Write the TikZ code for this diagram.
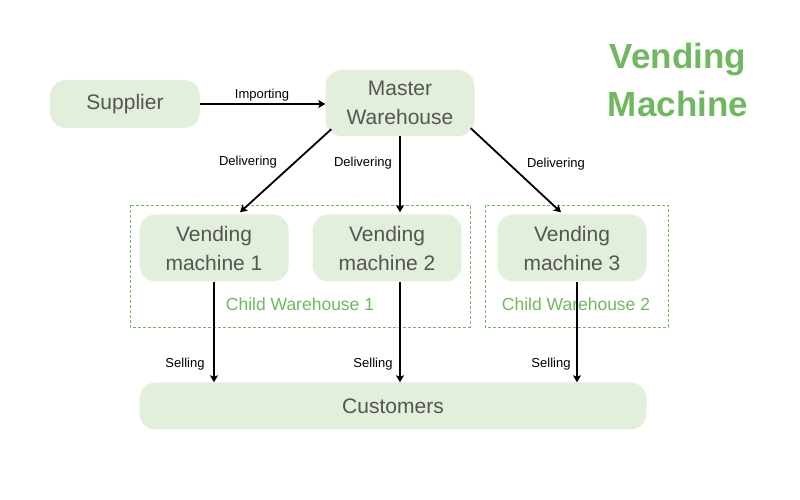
\documentclass[tikz,border=0pt]{standalone}
\usepackage{fontspec}
\setmainfont{Liberation Sans}
\usetikzlibrary{arrows.meta}
\definecolor{boxfill}{RGB}{226,239,218}
\definecolor{boxtext}{RGB}{85,85,85}
\definecolor{vmgreen}{RGB}{112,184,96}
\begin{document}
\begin{tikzpicture}[>={Stealth[length=7pt,width=8pt,inset=1.5pt]},line join=round,x=1pt,y=1pt,
	box/.style={fill=boxfill,text=boxtext,rounded corners=16pt,inner sep=0pt,align=center,font=\fontsize{21}{29}\selectfont},
	lbl/.style={font=\fontsize{13}{15}\selectfont,inner sep=0pt},
	grp/.style={draw=vmgreen,dash pattern=on 3pt off 2pt,line width=0.8pt},
	flow/.style={->,line width=1.8pt}]
	\useasboundingbox (0,0) rectangle (800,500);
	% child warehouses
	\draw[grp] (130,295) rectangle (470,173);
	\draw[grp] (485,295) rectangle (668,173);
	\node[text=vmgreen,font=\fontsize{17.5}{20}\selectfont] (cw1) at (300,196) {Child Warehouse 1};
	\node[text=vmgreen,font=\fontsize{17.5}{20}\selectfont] (cw2) at (576,196) {Child Warehouse 2};
	% boxes
	\node[box,minimum width=150pt,minimum height=48pt] (sup) at (125,396) {Supplier};
	\node[box,minimum width=149pt,minimum height=66pt] (mw) at (400,397) {Master\\Warehouse};
	\foreach \i/\x in {1/214,2/387,3/572}
	{\node[box,minimum width=149pt,minimum height=67pt] (vm\i) at (\x,252) {Vending\\machine \i};}
	\node[box,minimum width=507pt,minimum height=47pt] (cust) at (393,94) {Customers};
	\node[text=vmgreen,font=\bfseries\fontsize{35}{48}\selectfont,align=center] (title) at (678,420) {Vending\\Machine};
	% connectors
	\draw[flow] (sup.east) -- (sup.east -| mw.west);
	\draw[flow] ([xshift=6pt,yshift=7pt]mw.south west) -- ([xshift=26pt,yshift=2pt]vm1.north);
	\draw[flow] (mw.south) -- ([yshift=2pt]mw.south |- vm2.north);
	\draw[flow] ([xshift=-4pt,yshift=8pt]mw.south east) -- ([xshift=-11pt,yshift=2pt]vm3.north);
	\foreach \i/\d in {1/0,2/13,3/5}
	{\draw[flow] ([xshift=\d pt]vm\i.south) -- ([xshift=\d pt]vm\i.south |- cust.north);}
	% labels
	\node[lbl] (imp) at (262,405) {Importing};
	\node[lbl] (del1) at (248,338) {Delivering};
	\node[lbl] (del2) at (363,337) {Delivering};
	\node[lbl] (del3) at (556,336) {Delivering};
	\foreach \i/\x in {1/185,2/373,3/551}
	{\node[lbl] (sel\i) at (\x,136) {Selling};}
\end{tikzpicture}
\end{document}
